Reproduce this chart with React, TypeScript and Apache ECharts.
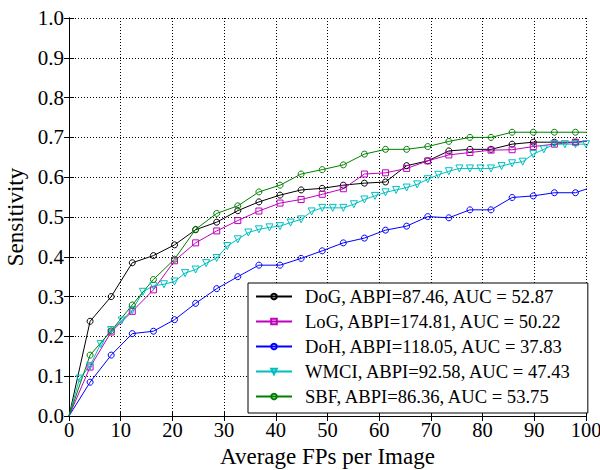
import React, { useEffect, useRef } from "react";
import * as echarts from "echarts";

// Sampling grids (Average FPs per image)
const xCoarse = [0, 4.08, 8.16, 12.24, 16.33, 20.41, 24.49, 28.57, 32.65, 36.73, 40.82, 44.9, 48.98, 53.06, 57.14, 61.22, 65.31, 69.39, 73.47, 77.55, 81.63, 85.71, 89.8, 93.88, 97.96, 102.04];
const xFine = [0, 2.04, 4.08, 6.12, 8.16, 10.2, 12.24, 14.29, 16.33, 18.37, 20.41, 22.45, 24.49, 26.53, 28.57, 30.61, 32.65, 34.69, 36.73, 38.78, 40.82, 42.86, 44.9, 46.94, 48.98, 51.02, 53.06, 55.1, 57.14, 59.18, 61.22, 63.27, 65.31, 67.35, 69.39, 71.43, 73.47, 75.51, 77.55, 79.59, 81.63, 83.67, 85.71, 87.76, 89.8, 91.84, 93.88, 95.92, 97.96, 100];

// Sensitivity values
const dog = [0, 0.238, 0.3, 0.385, 0.403, 0.43, 0.468, 0.487, 0.516, 0.538, 0.555, 0.568, 0.572, 0.58, 0.585, 0.588, 0.629, 0.641, 0.666, 0.67, 0.67, 0.683, 0.688, 0.688, 0.688, 0.692];
const log = [0, 0.123, 0.211, 0.263, 0.317, 0.39, 0.435, 0.465, 0.491, 0.515, 0.535, 0.544, 0.557, 0.571, 0.608, 0.611, 0.622, 0.641, 0.656, 0.662, 0.668, 0.669, 0.677, 0.683, 0.688, 0.692];
const doh = [0, 0.085, 0.153, 0.207, 0.213, 0.242, 0.283, 0.32, 0.35, 0.379, 0.379, 0.396, 0.415, 0.435, 0.447, 0.467, 0.477, 0.501, 0.498, 0.518, 0.518, 0.549, 0.553, 0.561, 0.561, 0.579];
const wmci = [0, 0.094, 0.126, 0.181, 0.216, 0.24, 0.266, 0.312, 0.327, 0.331, 0.338, 0.359, 0.368, 0.384, 0.397, 0.427, 0.444, 0.461, 0.469, 0.474, 0.477, 0.486, 0.494, 0.514, 0.523, 0.523, 0.523, 0.532, 0.544, 0.553, 0.562, 0.568, 0.574, 0.582, 0.595, 0.606, 0.615, 0.622, 0.622, 0.622, 0.622, 0.628, 0.635, 0.639, 0.658, 0.67, 0.683, 0.683, 0.683, 0.683];
const sbf = [0, 0.153, 0.214, 0.279, 0.343, 0.394, 0.469, 0.509, 0.528, 0.563, 0.58, 0.608, 0.619, 0.631, 0.658, 0.67, 0.67, 0.677, 0.69, 0.7, 0.7, 0.713, 0.713, 0.713, 0.713, 0.713];

const names = [
  "DoG, ABPI=87.46, AUC = 52.87",
  "LoG, ABPI=174.81, AUC = 50.22",
  "DoH, ABPI=118.05, AUC = 37.83",
  "WMCI, ABPI=92.58, AUC = 47.43",
  "SBF, ABPI=86.36, AUC = 53.75",
];
const colors = ["#000000", "#bf00bf", "#0000ff", "#00bfbf", "#008000"];
const symbols = ["circle", "rect", "circle", "triangle", "circle"];
const xTicks = [0, 10, 20, 30, 40, 50, 60, 70, 80, 90, 100];
const yTicks = [0, 0.1, 0.2, 0.3, 0.4, 0.5, 0.6, 0.7, 0.8, 0.9, 1.0];

const FONT = "'Liberation Serif', 'DejaVu Serif', serif";

export default function App() {
  const ref = useRef<HTMLDivElement>(null);
  useEffect(() => {
    if (!ref.current) return;
    const chart = echarts.init(ref.current, null, { renderer: "svg" });
    const seriesData = [
      [xCoarse, dog],
      [xCoarse, log],
      [xCoarse, doh],
      [xFine, wmci],
      [xCoarse, sbf],
    ];
    const series = seriesData.map(([xs, ys], k) => ({
      type: "line",
      name: names[k],
      data: xs.map((x, i) => (x === 0 ? { value: [x, ys[i]], symbol: "none" } : [x, ys[i]])),
      symbol: symbols[k],
      symbolSize: k === 1 ? 6 : k === 3 ? 7 : 6,
      symbolRotate: k === 3 ? 180 : 0,
      showAllSymbol: true,
      clip: true,
      color: colors[k],
      lineStyle: { color: colors[k], width: 1 },
      itemStyle: { color: "rgba(255,255,255,0)", borderColor: colors[k], borderWidth: 1 },
      emphasis: { disabled: true },
      z: 3,
    }));
    const tickBase = {
      axisLine: { show: true, lineStyle: { color: "#000", width: 1 } },
      axisTick: { show: true, inside: true, length: 5, lineStyle: { color: "#000", width: 1 } },
    };
    chart.setOption({
      animation: false,
      textStyle: { fontFamily: FONT },
      grid: { left: 69, top: 18, right: 14, bottom: 54, containLabel: false, outerBoundsMode: "none" },
      legend: {
        orient: "vertical",
        left: 248,
        top: 283,
        itemWidth: 36,
        itemHeight: 7,
        itemGap: 6,
        padding: [4, 16, 7, 7],
        backgroundColor: "#fff",
        borderColor: "#000",
        borderWidth: 1,
        borderRadius: 0,
        textStyle: { fontFamily: FONT, fontSize: 18.6, color: "#000", padding: [0, 0, 0, 8] },
        data: names,
      },
      xAxis: [
        {
          type: "value",
          min: 0,
          max: 100,
          interval: 10,
          ...tickBase,
          splitLine: { show: true, lineStyle: { color: "#000", type: [1, 2], width: 1 } },
          axisLabel: {
            fontFamily: FONT,
            fontSize: 20.5,
            color: "#000",
            margin: 3,
            formatter: (v: number) => (xTicks.includes(v) ? String(v) : ""),
          },
          name: "Average FPs per Image",
          nameLocation: "middle",
          nameGap: 29,
          nameTextStyle: { fontFamily: FONT, fontSize: 23, color: "#000" },
        },
        {
          type: "value",
          position: "top",
          min: 0,
          max: 100,
          interval: 10,
          ...tickBase,
          splitLine: { show: false },
          axisLabel: { show: false },
        },
      ],
      yAxis: [
        {
          type: "value",
          min: 0,
          max: 1,
          interval: 0.1,
          ...tickBase,
          splitLine: { show: true, lineStyle: { color: "#000", type: [1, 2], width: 1 } },
          axisLabel: {
            fontFamily: FONT,
            fontSize: 21,
            color: "#000",
            margin: 5,
            formatter: (v: number) => {
              const t = yTicks.find((y) => Math.abs(y - v) < 1e-6);
              return t === undefined ? "" : t.toFixed(1);
            },
          },
          name: "Sensitivity",
          nameLocation: "middle",
          nameGap: 38,
          nameTextStyle: { fontFamily: FONT, fontSize: 23, color: "#000" },
        },
        {
          type: "value",
          position: "right",
          min: 0,
          max: 1,
          interval: 0.1,
          ...tickBase,
          splitLine: { show: false },
          axisLabel: { show: false },
        },
      ],
      series,
    });
    return () => chart.dispose();
  }, []);
  return (
    <div
      ref={ref}
      style={{ position: "fixed", left: 0, top: 0, width: 600, height: 470, background: "#fff" }}
    />
  );
}
